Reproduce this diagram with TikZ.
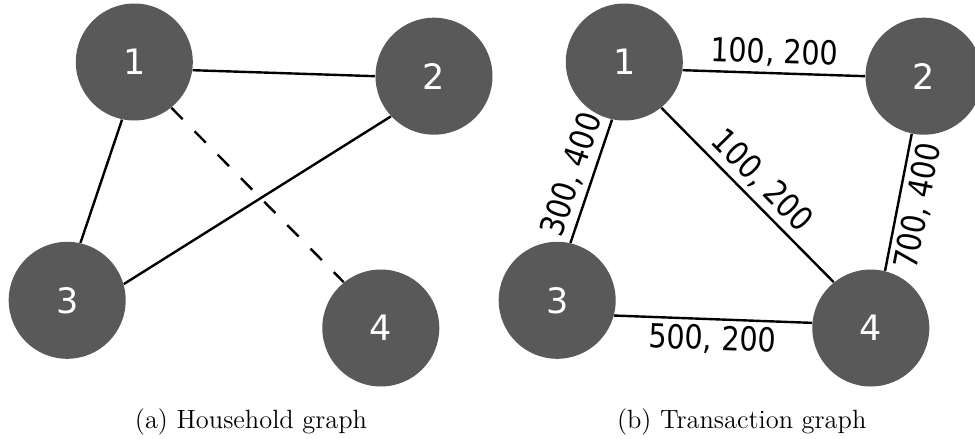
\documentclass[tikz,border=0pt]{standalone}
\usepackage{fontspec}
\newfontfamily\lblfont[FakeStretch=0.87]{DejaVu Sans}
\newfontfamily\numfont{DejaVu Sans}
\definecolor{nodegray}{RGB}{89,89,89}
\begin{document}
\begin{tikzpicture}[x=0.5pt,y=-0.5pt,
  vert/.style={circle,fill=nodegray,draw=none,inner sep=0pt,minimum size=58.5pt,
    text=white,font=\numfont\fontsize{17.5}{20}\selectfont},
  edge/.style={line width=1.2pt,black},
  dashedge/.style={edge,dash pattern=on 8pt off 8.5pt},
  elabel/.style={font=\lblfont\fontsize{16.5}{19}\selectfont,inner sep=2.5pt,sloped,midway},
  caption/.style={font=\fontsize{13.2}{15}\selectfont,anchor=base}]
\useasboundingbox (0,0) rectangle (975,439);
% (a) Household graph
\node[vert] (a1) at (134.3,62) {1};
\node[vert] (a2) at (434,76.2) {2};
\node[vert] (a3) at (67.2,300.3) {3};
\node[vert] (a4) at (380.8,328) {4};
\draw[edge] (a1.-8.7) -- (a2.180);
\draw[edge] (a1.258.3) -- (a3.77.8);
\draw[edge] (a3.16) -- (a2.223.4);
\draw[dashedge] (a1.-51.7) -- (a4.129.6);
\node[caption] (capa) at (251,428) {(a) Household graph};
% (b) Transaction graph
\node[vert] (b1) at (624.3,62) {1};
\node[vert] (b2) at (924,76.2) {2};
\node[vert] (b3) at (557.2,300.3) {3};
\node[vert] (b4) at (870.8,328) {4};
\draw[edge] (b1.-8.7) -- node[elabel,above] {100, 200} (b2.180);
\draw[edge] (b1.258.3) -- node[elabel,above] {300, 400} (b3.77.8);
\draw[edge] (b1.-51.7) -- node[elabel,above] {100, 200} (b4.129.6);
\draw[edge] (b2.258) -- node[elabel,below] {700, 400} (b4.76);
\draw[edge] (b3.-15.8) -- node[elabel,below] {500, 200} (b4.175);
\node[caption] (capb) at (741.7,428) {(b) Transaction graph};
\end{tikzpicture}
\end{document}
